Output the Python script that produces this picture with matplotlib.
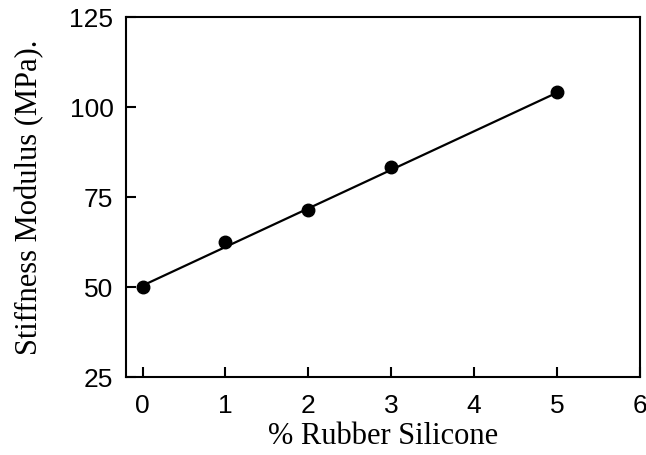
import matplotlib.pyplot as plt

rubber_pct = [0, 1, 2, 3, 5]
stiffness = [49.9, 62.6, 71.4, 83.4, 104.1]
fit_x = [0, 5]
fit_y = [50.4, 104.0]
x_ticks = [0, 1, 2, 3, 4, 5, 6]
y_ticks = [25, 50, 75, 100, 125]

fig = plt.figure(figsize=(6.46, 4.55), dpi=100)
ax = fig.add_axes([0.195, 0.1714, 0.7957, 0.7912])

ax.plot(fit_x, fit_y, color="black", lw=1.6)
ax.plot(rubber_pct, stiffness, "o", color="black", ms=9)

ax.set_xlim(-0.2, 6)
ax.set_ylim(25, 125)
ax.set_xticks(x_ticks)
ax.set_yticks(y_ticks)

for s in ax.spines.values():
    s.set_linewidth(1.5)
ax.tick_params(direction="in", length=7.5, width=1.5, labelsize=19)
ax.tick_params(axis="x", pad=12)
ax.tick_params(axis="y", pad=9)
for lbl in ax.get_xticklabels() + ax.get_yticklabels():
    lbl.set_family("Liberation Sans")

ax.set_xlabel("% Rubber Silicone", family="Liberation Serif", fontsize=22, labelpad=3)
ax.set_ylabel("Stiffness Modulus (MPa).", family="Liberation Serif", fontsize=22, labelpad=18)

fig.savefig("out.png", dpi=100)
